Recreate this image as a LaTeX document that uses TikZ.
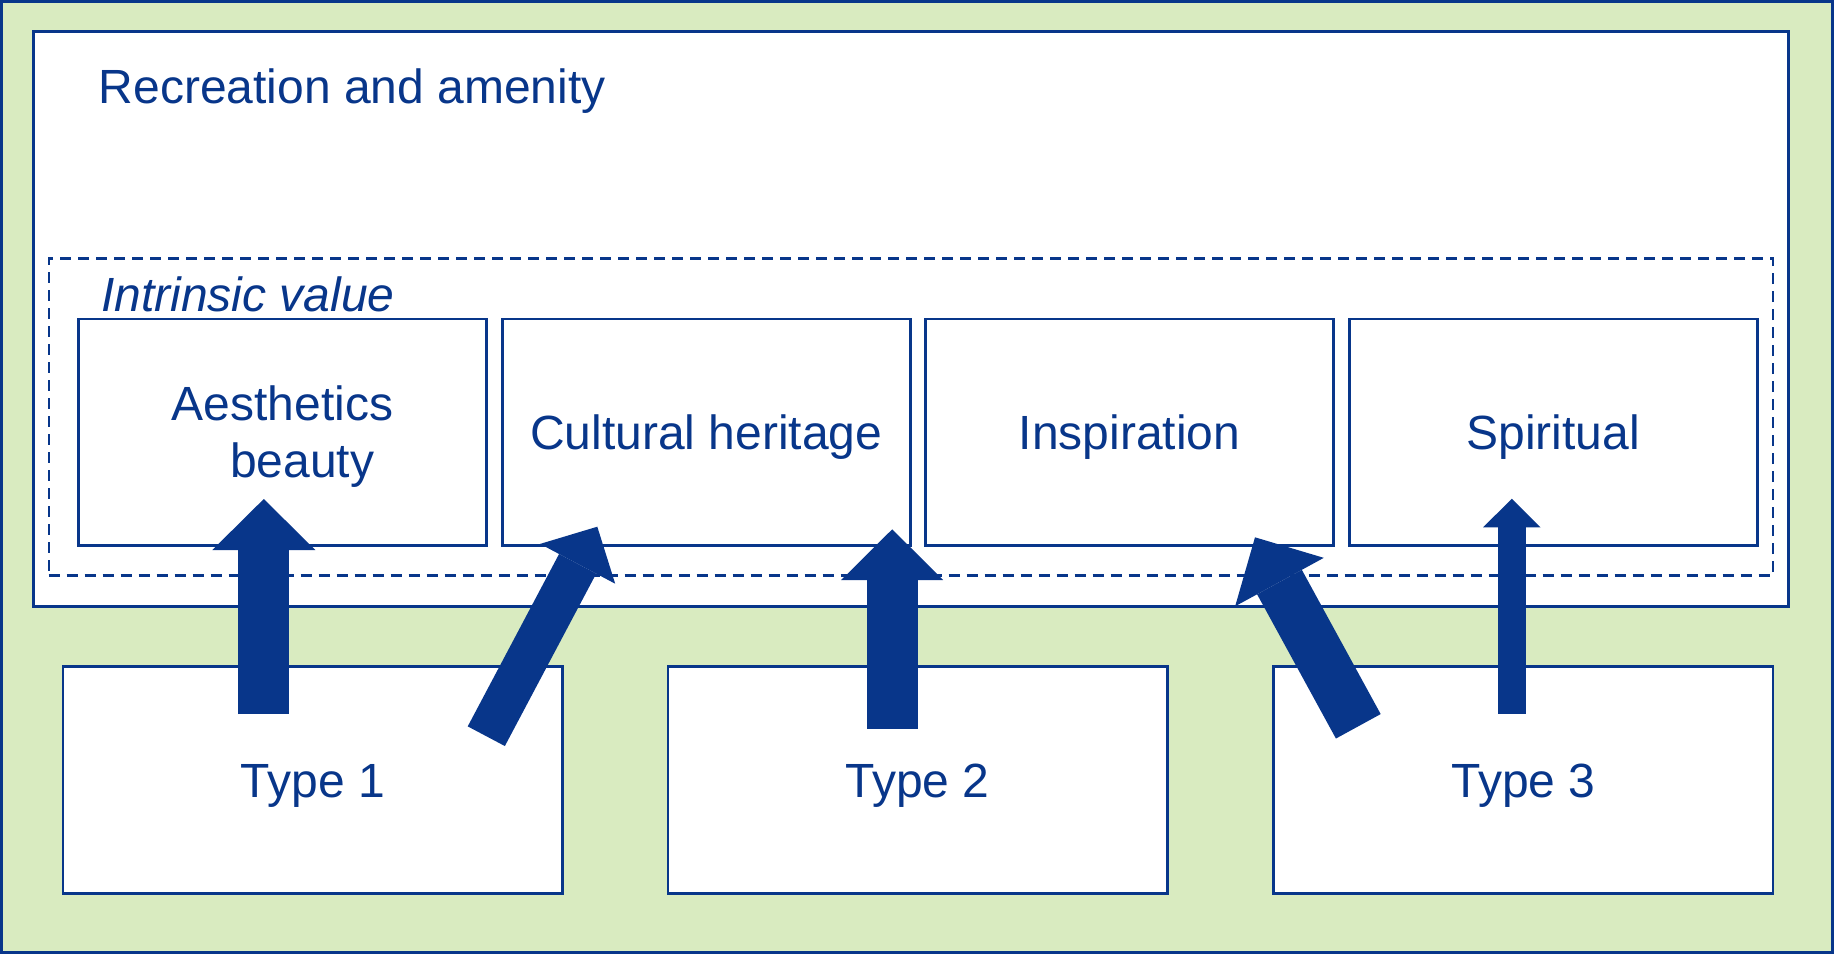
\documentclass[tikz,border=0pt]{standalone}
\usepackage{fontspec}
\setmainfont{Liberation Sans}
\usetikzlibrary{arrows.meta}
\definecolor{navy}{RGB}{8,54,138}
\definecolor{bggreen}{RGB}{217,235,192}
\tikzset{
  frame/.style={draw=navy, line width=2.5pt},
  box/.style={frame, fill=white, inner sep=0pt, text=navy,
    font=\fontsize{48}{57}\selectfont, text height=34.4pt, text depth=0pt},
  upbox/.style={box, minimum width=408pt, minimum height=226.5pt},
  lowbox/.style={box, minimum width=499.4pt, minimum height=227pt},
  lbl/.style={text=navy, inner sep=0pt, font=\fontsize{48}{57}\selectfont},
  blockarrow/.style n args={3}{draw=navy, line width=#1, line cap=butt,
    -{Triangle[width=#2, length=#3, line width=0pt, fill=navy]}},
}
\begin{document}
\begin{tikzpicture}[x=1pt, y=-1pt]
  \useasboundingbox (0,0) rectangle (1834,954);
  \fill[bggreen] (0,0) rectangle (1834,954);
  \draw[draw=navy, line width=2.5pt] (1.5,1.5) rectangle (1832.5,952.5);
  % main box
  \node[frame, fill=white, minimum width=1755pt, minimum height=575pt, inner sep=0pt] (main) at (911,319) {};
  \node[lbl, anchor=base west] (title) at (98.5,103.3) {Recreation and amenity};
  % dashed box
  \node[draw=navy, line width=2.2pt, dash pattern=on 11pt off 7pt, minimum width=1724.6pt, minimum height=317pt, inner sep=0pt] (intr) at (911,417) {};
  \node[lbl, anchor=base west, font=\fontsize{48}{57}\selectfont\itshape] (intrlbl) at (101,311.7) {Intrinsic value};
  % upper boxes
  \node[upbox, align=center, text height=91.4pt] (aes) at (282.6,432.25) {Aesthetics\\\hspace*{39pt}beauty};
  \node[upbox] (cult) at (706.25,432.25) {Cultural heritage};
  \node[upbox] (insp) at (1129.5,432.25) {Inspiration};
  \node[upbox] (spir) at (1553.25,432.25) {Spiritual};
  % lower boxes
  \node[lowbox] (t1) at (312.9,780.15) {Type 1};
  \node[lowbox] (t2) at (917.55,780.15) {Type 2};
  \node[lowbox] (t3) at (1523.35,780.15) {Type 3};
  % arrow end points
  \coordinate (a1s) at (263.8,714);   \coordinate (a1e) at (263.8,499);
  \coordinate (a2s) at (486.3,736.2); \coordinate (a2e) at (597.3,526.7);
  \coordinate (a3s) at (892.2,728.7); \coordinate (a3e) at (892.2,529.3);
  \coordinate (a4s) at (1358.3,726.3);\coordinate (a4e) at (1255,537.3);
  \coordinate (a5s) at (1511.8,713.7);\coordinate (a5e) at (1511.8,498.7);
  % arrows
  \draw[blockarrow={51pt}{103pt}{51pt}] (a1s) -- (a1e);
  \draw[blockarrow={42pt}{85pt}{42pt}] (a2s) -- (a2e);
  \draw[blockarrow={51pt}{102pt}{50.7pt}] (a3s) -- (a3e);
  \draw[blockarrow={51pt}{101pt}{51pt}] (a4s) -- (a4e);
  \draw[blockarrow={28.5pt}{57.5pt}{28.7pt}] (a5s) -- (a5e);
\end{tikzpicture}
\end{document}
